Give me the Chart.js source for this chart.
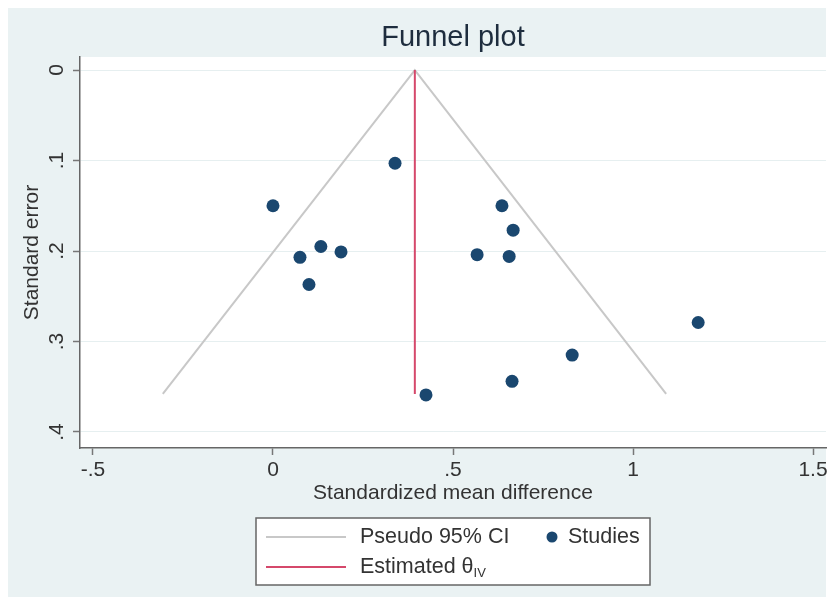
<!DOCTYPE html>
<html>
<head>
<meta charset="utf-8">
<title>Funnel plot</title>
<script src="https://cdn.jsdelivr.net/npm/chart.js@4.4.1/dist/chart.umd.min.js"></script>
<style>
  html, body { margin: 0; padding: 0; background: #fff; }
  #wrap { width: 827px; height: 601px; }
</style>
</head>
<body>
<div id="wrap"><canvas id="funnel-chart"></canvas></div>
<script>
// Studies: standardized mean difference and its standard error
const studySMD = [0.339, 0, 0.075, 0.133, 0.189, 0.100, 0.567, 0.636, 0.667, 0.656, 1.181, 0.831, 0.664, 0.425];
const studySE  = [0.103, 0.150, 0.207, 0.195, 0.201, 0.237, 0.204, 0.150, 0.177, 0.206, 0.279, 0.315, 0.344, 0.359];

// Pseudo 95% CI (left end, apex, right end)
const ciSMD = [-0.306, 0.394, 1.092];
const ciSE  = [0.358, 0, 0.358];

// Estimated theta (IV) line
const thetaSMD = [0.394, 0.394];
const thetaSE  = [0, 0.358];

// Axis ticks
const xTicks = [-0.5, 0, 0.5, 1, 1.5];
const xTickLabels = ['-.5', '0', '.5', '1', '1.5'];
const yTicks = [0, 0.1, 0.2, 0.3, 0.4];
const yTickLabels = ['0', '.1', '.2', '.3', '.4'];

const FONT = "'Liberation Sans', Arial, sans-serif";
const TEXT = '#333333';

document.addEventListener('DOMContentLoaded', function () {
  const ctx = document.getElementById('funnel-chart').getContext('2d');

  // Stata-like background, title, rotated y labels and boxed legend
  const stataLook = {
    id: 'stataLook',
    beforeDraw(chart) {
      const { ctx, chartArea: a, width, height } = chart;
      ctx.save();
      ctx.fillStyle = '#ffffff';
      ctx.fillRect(0, 0, width, height);
      ctx.fillStyle = '#eaf2f3';
      ctx.fillRect(8, 8, width - 9, height - 12);
      ctx.fillStyle = '#ffffff';
      ctx.fillRect(a.left, a.top, a.right - a.left, a.bottom - a.top);
      ctx.restore();
    },
    afterDraw(chart) {
      const { ctx, chartArea: a, scales } = chart;
      const cx = (a.left + a.right) / 2;
      ctx.save();

      // title
      ctx.fillStyle = '#1e2d3e';
      ctx.font = '29px ' + FONT;
      ctx.textAlign = 'center';
      ctx.textBaseline = 'middle';
      ctx.fillText('Funnel plot', cx, 38);

      // y tick labels, turned like in Stata
      ctx.font = '21px ' + FONT;
      ctx.fillStyle = TEXT;
      ctx.textBaseline = 'alphabetic';
      yTicks.forEach(function (v, i) {
        const py = scales.y.getPixelForValue(v);
        ctx.save();
        ctx.translate(a.left - 17, py);
        ctx.rotate(-Math.PI / 2);
        ctx.fillText(yTickLabels[i], 0, 0);
        ctx.restore();
      });

      // legend box
      const ds = chart.data.datasets;
      const left = cx - 197, top = 518;
      ctx.fillStyle = '#ffffff';
      ctx.fillRect(left, top, 394, 67);
      ctx.strokeStyle = '#666666';
      ctx.lineWidth = 1.5;
      ctx.strokeRect(left, top, 394, 67);

      const row1 = top + 19, row2 = top + 49;
      ctx.lineWidth = 2;
      ctx.strokeStyle = ds[0].borderColor;
      ctx.beginPath(); ctx.moveTo(left + 10, row1); ctx.lineTo(left + 90, row1); ctx.stroke();
      ctx.strokeStyle = ds[1].borderColor;
      ctx.beginPath(); ctx.moveTo(left + 10, row2); ctx.lineTo(left + 90, row2); ctx.stroke();
      ctx.fillStyle = ds[2].backgroundColor;
      ctx.beginPath(); ctx.arc(left + 296, row1, 5.5, 0, Math.PI * 2); ctx.fill();

      ctx.fillStyle = TEXT;
      ctx.textAlign = 'left';
      ctx.textBaseline = 'middle';
      ctx.font = '21.5px ' + FONT;
      ctx.fillText(ds[0].label, left + 104, row1);
      ctx.fillText(ds[2].label, left + 312, row1);
      const base = 'Estimated θ';
      ctx.fillText(base, left + 104, row2);
      const w = ctx.measureText(base).width;
      ctx.font = '13px ' + FONT;
      ctx.fillText('IV', left + 104 + w, row2 + 6);

      ctx.restore();
    }
  };

  const config = {
    type: 'scatter',
    data: {
      datasets: [
        {
          label: 'Pseudo 95% CI',
          type: 'line',
          data: ciSMD.map(function (x, i) { return { x: x, y: ciSE[i] }; }),
          borderColor: '#c8c8c8',
          borderWidth: 2,
          pointRadius: 0,
          fill: false,
          tension: 0,
          order: 3
        },
        {
          label: 'Estimated θIV',
          type: 'line',
          data: thetaSMD.map(function (x, i) { return { x: x, y: thetaSE[i] }; }),
          borderColor: '#d5486b',
          borderWidth: 2,
          pointRadius: 0,
          fill: false,
          order: 2
        },
        {
          label: 'Studies',
          data: studySMD.map(function (x, i) { return { x: x, y: studySE[i] }; }),
          backgroundColor: '#1a476f',
          borderColor: '#1a476f',
          borderWidth: 0,
          pointRadius: 6.5,
          pointHoverRadius: 6.5,
          order: 1
        }
      ]
    },
    options: {
      responsive: true,
      maintainAspectRatio: false,
      animation: false,
      layout: { autoPadding: false, padding: { top: 57, left: 0, right: 1, bottom: 91 } },
      plugins: {
        legend: { display: false },
        title: { display: false },
        tooltip: { enabled: false }
      },
      scales: {
        x: {
          type: 'linear',
          min: -0.536,
          max: 1.536,
          afterBuildTicks: function (s) { s.ticks = xTicks.map(function (v) { return { value: v }; }); },
          afterFit: function (s) {
            s.height = 62;
            s.paddingLeft = 0;
            s.paddingRight = 0;
          },
          ticks: {
            autoSkip: false,
            maxRotation: 0,
            padding: 3,
            color: TEXT,
            font: { size: 21, family: FONT },
            callback: function (v) { const i = xTicks.indexOf(v); return i >= 0 ? xTickLabels[i] : ''; }
          },
          grid: { drawOnChartArea: false, tickLength: 7, tickColor: '#777777', tickWidth: 1.5 },
          border: { color: '#666666', width: 1.5 },
          title: {
            display: true,
            text: 'Standardized mean difference',
            color: TEXT,
            font: { size: 21, family: FONT },
            padding: { top: 0, bottom: 4 }
          }
        },
        y: {
          type: 'linear',
          reverse: true,
          min: -0.0144,
          max: 0.4177,
          afterBuildTicks: function (s) { s.ticks = yTicks.map(function (v) { return { value: v }; }); },
          afterFit: function (s) {
            s.width = 80;
            s.paddingTop = 0;
            s.paddingBottom = 0;
          },
          ticks: { display: false },
          grid: { color: '#e6eff0', lineWidth: 1, drawTicks: true, tickLength: 7, tickColor: '#777777', tickWidth: 1.5 },
          border: { color: '#666666', width: 1.5 },
          title: {
            display: true,
            text: 'Standard error',
            color: TEXT,
            font: { size: 21, family: FONT },
            padding: { top: 20, bottom: 0 }
          }
        }
      }
    },
    plugins: [stataLook]
  };

  const funnelChart = new Chart(ctx, config);
});
</script>
</body>
</html>
